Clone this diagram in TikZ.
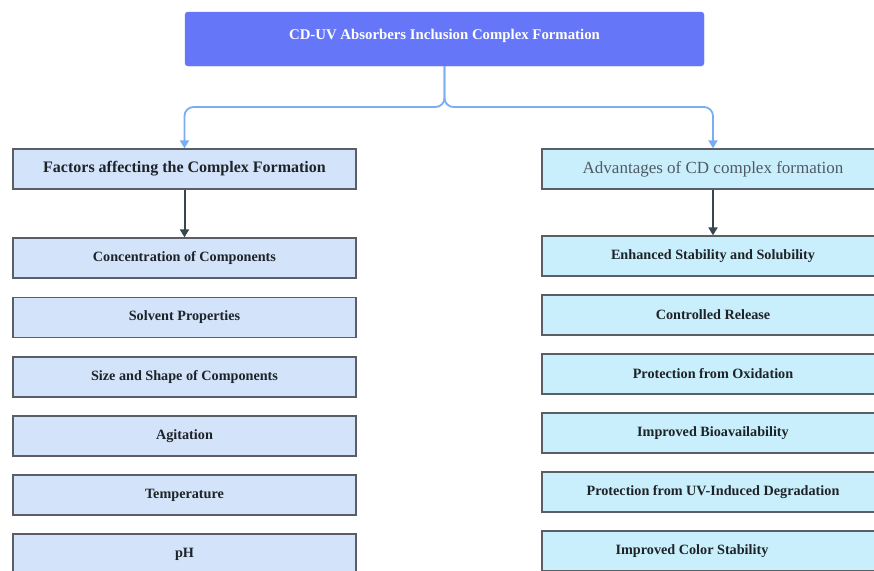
\documentclass[tikz,border=0pt]{standalone}
\usepackage{fontspec}
\setmainfont{Liberation Serif}
\usetikzlibrary{arrows.meta}
\definecolor{topfill}{HTML}{6577F8}
\definecolor{leftfill}{HTML}{D3E3FA}
\definecolor{rightfill}{HTML}{C9EEFC}
\definecolor{boxline}{HTML}{5A5F66}
\definecolor{bluecon}{HTML}{79AEF5}
\definecolor{darkcon}{HTML}{37474F}
\definecolor{graytext}{HTML}{4F5A66}
\definecolor{darktext}{HTML}{1E2328}
\tikzset{
  topbox/.style={draw=topfill, fill=topfill, rounded corners=3pt, minimum width=519pt, minimum height=54pt, inner sep=0pt, text=white, font=\fontsize{14.8}{17}\selectfont\bfseries},
  lbox/.style={draw=boxline, line width=1.3pt, fill=leftfill, minimum width=343pt, minimum height=40pt, inner sep=0pt, text=darktext, font=\fontsize{14.2}{17}\selectfont\bfseries},
  rbox/.style={lbox, fill=rightfill, minimum width=342pt},
  lhead/.style={lbox, font=\fontsize{16}{19}\selectfont\bfseries},
  rhead/.style={rbox, text=graytext, font=\fontsize{17}{20}\selectfont},
  bluearrow/.style={draw=bluecon, line width=1.8pt, rounded corners=9pt, -{Triangle[width=9pt,length=8pt]}},
  darkarrow/.style={draw=darkcon, line width=2pt, -{Triangle[width=9pt,length=8pt]}}
}
\begin{document}
\begin{tikzpicture}[x=1pt,y=-1pt]
\useasboundingbox (0,0) rectangle (874,570);
\clip (0,0) rectangle (874,570);
\node[topbox] (top) at (444.5,39) {\raisebox{9pt}{CD-UV Absorbers Inclusion Complex Formation}};
\node[lhead] (lh) at (184.5,169) {Factors affecting the Complex Formation};
\node[rhead] (rh) at (713,169) {Advantages of CD complex formation};
\coordinate (split) at (444.5,107);
\draw[bluearrow] (top.south) -- (split) -| (lh.north);
\draw[bluearrow] (top.south) -- (split) -| (rh.north);
\node[lbox] (l1) at (184.5,258) {Concentration of Components};
\node[lbox] (l2) at (184.5,317.5) {Solvent Properties};
\node[lbox] (l3) at (184.5,377) {Size and Shape of Components};
\node[lbox] (l4) at (184.5,436) {Agitation};
\node[lbox] (l5) at (184.5,495) {Temperature};
\node[lbox] (l6) at (184.5,554) {pH};
\node[rbox] (r1) at (713,256) {Enhanced Stability and Solubility};
\node[rbox] (r2) at (713,315) {Controlled Release};
\node[rbox] (r3) at (713,374) {Protection from Oxidation};
\node[rbox] (r4) at (713,433) {Improved Bioavailability};
\node[rbox] (r5) at (713,492) {Protection from UV-Induced Degradation};
\node[rbox] (r6) at (713,551) {Improved Color Stability\hspace*{42pt}};
\draw[darkarrow] (lh.south) -- (l1.north);
\draw[darkarrow] (rh.south) -- (r1.north);
\end{tikzpicture}
\end{document}
